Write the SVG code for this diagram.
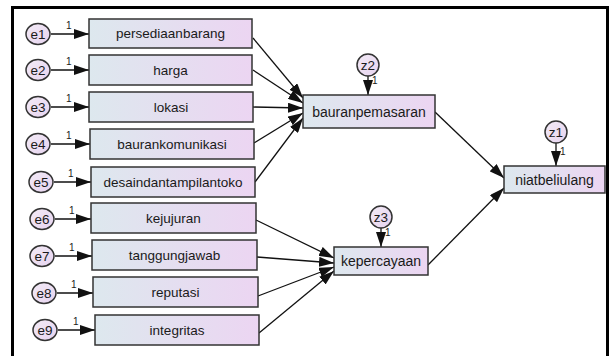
<svg xmlns="http://www.w3.org/2000/svg" width="613" height="356" viewBox="0 0 613 356">
<defs>
<linearGradient id="gb" x1="0" y1="0" x2="1" y2="0">
<stop offset="0" stop-color="#dde8ee"/>
<stop offset="1" stop-color="#ecd5f2"/>
</linearGradient>
<linearGradient id="gc" x1="0" y1="0" x2="1" y2="1">
<stop offset="0" stop-color="#f3ebf6"/>
<stop offset="1" stop-color="#e6d3ef"/>
</linearGradient>
<marker id="ah" markerUnits="userSpaceOnUse" markerWidth="15" markerHeight="10" refX="15" refY="5" orient="auto">
<path d="M0,0 L15,5 L0,10 z" fill="#111"/>
</marker>
</defs>
<style>
.box{fill:url(#gb);stroke:#333;stroke-width:1.5}
.cir{fill:url(#gc);stroke:#333;stroke-width:1.5}
.t{font-family:"Liberation Sans",Arial,sans-serif;font-size:13.5px;fill:#1a1a1a;text-anchor:middle}
.ct{font-family:"Liberation Sans",Arial,sans-serif;font-size:13.5px;fill:#1a1a1a;text-anchor:middle}
.one{font-family:"Liberation Sans",Arial,sans-serif;font-size:10px;fill:#1a1a1a}
.c{stroke:#111;stroke-width:1.3;fill:none;marker-end:url(#ah)}
</style>
<rect width="613" height="356" fill="#fff"/>
<rect x="12.5" y="7.5" width="595" height="400" fill="none" stroke="#000" stroke-width="3"/>

<g id="connectors">
<line class="c" x1="51" y1="34" x2="89" y2="34"/>
<line class="c" x1="51" y1="70" x2="89" y2="70"/>
<line class="c" x1="51" y1="107" x2="89" y2="107"/>
<line class="c" x1="51" y1="144" x2="90" y2="144"/>
<line class="c" x1="54" y1="182" x2="91" y2="182"/>
<line class="c" x1="55" y1="219" x2="91" y2="219"/>
<line class="c" x1="55" y1="256" x2="92" y2="256"/>
<line class="c" x1="57" y1="293" x2="93" y2="293"/>
<line class="c" x1="58" y1="330" x2="95" y2="330"/>
<line class="c" x1="253" y1="38" x2="303" y2="98"/>
<line class="c" x1="253" y1="70" x2="303" y2="103"/>
<line class="c" x1="253" y1="107" x2="303" y2="108"/>
<line class="c" x1="254" y1="143" x2="303" y2="113"/>
<line class="c" x1="255" y1="182" x2="303" y2="118"/>
<line class="c" x1="256" y1="220" x2="334" y2="258"/>
<line class="c" x1="257" y1="257" x2="334" y2="263"/>
<line class="c" x1="258" y1="296" x2="334" y2="267"/>
<line class="c" x1="259" y1="333" x2="334" y2="271"/>
<line class="c" x1="435" y1="112" x2="504" y2="178"/>
<line class="c" x1="428" y1="265" x2="504" y2="188"/>
<line class="c" x1="368" y1="76" x2="368" y2="95"/>
<line class="c" x1="381" y1="228" x2="381" y2="247"/>
<line class="c" x1="556" y1="143" x2="556" y2="166"/>
<text class="one" x="66" y="29">1</text>
<text class="one" x="66" y="65">1</text>
<text class="one" x="66" y="102">1</text>
<text class="one" x="66" y="139">1</text>
<text class="one" x="68" y="177">1</text>
<text class="one" x="69" y="214">1</text>
<text class="one" x="69" y="251">1</text>
<text class="one" x="71" y="288">1</text>
<text class="one" x="73" y="325">1</text>
<text class="one" x="372" y="84">1</text>
<text class="one" x="385" y="236">1</text>
<text class="one" x="560" y="155">1</text>
</g>

<g id="e1"><ellipse class="cir" cx="38" cy="34" rx="12" ry="10.5"/><text class="ct" x="38" y="38.5">e1</text></g>
<g id="e2"><ellipse class="cir" cx="38" cy="70" rx="12" ry="10.5"/><text class="ct" x="38" y="74.5">e2</text></g>
<g id="e3"><ellipse class="cir" cx="38" cy="107" rx="12" ry="10.5"/><text class="ct" x="38" y="111.5">e3</text></g>
<g id="e4"><ellipse class="cir" cx="38" cy="144" rx="12" ry="10.5"/><text class="ct" x="38" y="148.5">e4</text></g>
<g id="e5"><ellipse class="cir" cx="41" cy="182" rx="12" ry="10.5"/><text class="ct" x="41" y="186.5">e5</text></g>
<g id="e6"><ellipse class="cir" cx="42" cy="219" rx="12" ry="10.5"/><text class="ct" x="42" y="223.5">e6</text></g>
<g id="e7"><ellipse class="cir" cx="42" cy="256" rx="12" ry="10.5"/><text class="ct" x="42" y="260.5">e7</text></g>
<g id="e8"><ellipse class="cir" cx="44" cy="293" rx="12" ry="10.5"/><text class="ct" x="44" y="297.5">e8</text></g>
<g id="e9"><ellipse class="cir" cx="45" cy="330" rx="12" ry="10.5"/><text class="ct" x="45" y="334.5">e9</text></g>

<g id="persediaanbarang"><rect class="box" x="89" y="19" width="163" height="29"/><text class="t" x="170.5" y="38">persediaanbarang</text></g>
<g id="harga"><rect class="box" x="89" y="55" width="163" height="30"/><text class="t" x="170.5" y="74.5">harga</text></g>
<g id="lokasi"><rect class="box" x="89" y="92" width="164" height="30"/><text class="t" x="171" y="111.5">lokasi</text></g>
<g id="baurankomunikasi"><rect class="box" x="90" y="129" width="164" height="30"/><text class="t" x="172" y="148.5">baurankomunikasi</text></g>
<g id="desaindantampilantoko"><rect class="box" x="91" y="167" width="164" height="30"/><text class="t" x="173" y="186.5">desaindantampilantoko</text></g>
<g id="kejujuran"><rect class="box" x="91" y="203" width="165" height="30"/><text class="t" x="173.5" y="222.5">kejujuran</text></g>
<g id="tanggungjawab"><rect class="box" x="92" y="240" width="165" height="30"/><text class="t" x="174.5" y="259.5">tanggungjawab</text></g>
<g id="reputasi"><rect class="box" x="93" y="277" width="165" height="30"/><text class="t" x="175.5" y="296.5">reputasi</text></g>
<g id="integritas"><rect class="box" x="95" y="315" width="164" height="30"/><text class="t" x="177" y="334.5">integritas</text></g>

<g id="bauranpemasaran"><rect class="box" x="303" y="95" width="132" height="33"/><text class="t" x="369" y="116.5" style="font-size:14px">bauranpemasaran</text></g>
<g id="kepercayaan"><rect class="box" x="334" y="247" width="94" height="28"/><text class="t" x="381" y="266" style="font-size:14px">kepercayaan</text></g>
<g id="niatbeliulang"><rect class="box" x="504" y="166" width="101" height="27"/><text class="t" x="554.5" y="184.5" style="font-size:14px">niatbeliulang</text></g>

<g id="z2"><circle class="cir" cx="368" cy="65" r="11"/><text class="ct" x="368" y="69.5">z2</text></g>
<g id="z3"><circle class="cir" cx="381" cy="217" r="11"/><text class="ct" x="381" y="221.5">z3</text></g>
<g id="z1"><circle class="cir" cx="556" cy="132" r="11"/><text class="ct" x="556" y="136.5">z1</text></g>
</svg>
